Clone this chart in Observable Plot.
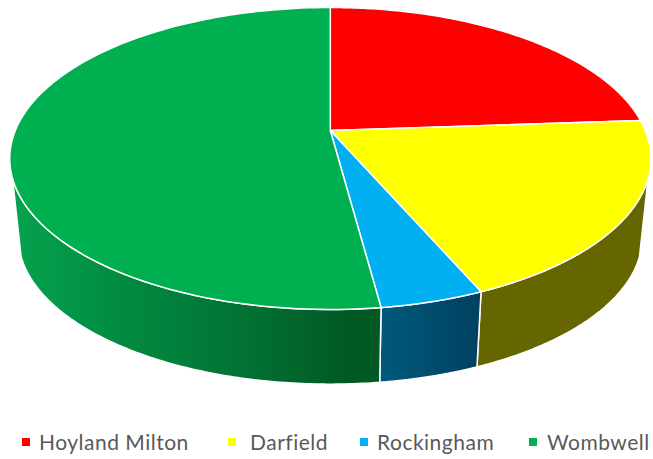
<!DOCTYPE html>
<html>
<head>
<meta charset="utf-8">
<script src="https://cdn.jsdelivr.net/npm/d3@7"></script>
<script src="https://cdn.jsdelivr.net/npm/@observablehq/plot@0.6"></script>
<style>
  html, body { margin: 0; padding: 0; background: #fff; }
  #chart svg { display: block; }
  #legend { position: relative; width: 653px; height: 59px; font: 21px Lato, sans-serif; color: #595959; letter-spacing: 0.5px; }
  #legend span { position: absolute; top: 30px; line-height: 24px; white-space: nowrap; }
  #legend i { position: absolute; top: 38px; width: 8px; height: 8px; }
</style>
</head>
<body>
<div id="chart"></div>
<div id="legend"></div>
<script>
// Share of each area, in percent, clockwise from twelve o'clock
const areas = ["Hoyland Milton", "Darfield", "Rockingham", "Wombwell"];
const shares = [23.9, 19.6, 4.4, 52.1];
const topColors = ["#ff0000", "#ffff00", "#00b0f0", "#00b050"];
const wallColors = ["#990000", "#666600", "url(#wall-blue)", "url(#wall-green)"];
const legendSwatchX = [22, 228, 360, 529];
const legendTextX = [39, 250, 377, 547];

const W = 653, H = 400;

// Perspective disc: the near edge is drawn larger than the far edge
const disc = {cx: 329.8, cy: 130, rx: 315, ry: 145.8, tilt: 0.1854};
const base = {cy: 209.5, scale: 0.973};
// Angles where the side wall meets the silhouette of the disc
const wallFrom = 108, wallTo = 252;

function rim(deg, level) {
  const a = deg * Math.PI / 180;
  const X = Math.sin(a), Y = -Math.cos(a), w = 1 - disc.tilt * Y;
  const s = level === "base" ? base.scale : 1;
  const y0 = level === "base" ? base.cy : disc.cy;
  return {x: disc.cx + s * disc.rx * X / w, y: y0 + s * disc.ry * Y / w};
}
const arc = (a0, a1, level) => d3.range(0, 121).map(i => rim(a0 + (a1 - a0) * i / 120, level));

// Running start and end angle of every slice
const total = d3.sum(shares);
let run = 0;
const slices = areas.map((name, i) => {
  const start = run * 360 / total;
  run += shares[i];
  return {name, start, end: run * 360 / total, top: topColors[i], wall: wallColors[i]};
});

const gradient = (defs, id, stops) => {
  const g = defs.append("linearGradient").attr("id", id).attr("x1", 0).attr("x2", 1).attr("y1", 0).attr("y2", 0);
  stops.forEach(([o, c]) => g.append("stop").attr("offset", o).attr("stop-color", c));
};
const gradients = () => {
  const defs = d3.create("svg:defs");
  gradient(defs, "wall-blue", [[0, "#005a7c"], [1, "#004060"]]);
  gradient(defs, "wall-green", [[0, "#05a34e"], [0.3, "#018a40"], [0.6, "#017436"], [0.9, "#015a24"], [1, "#015a26"]]);
  return defs.node();
};

const walls = slices
  .filter(s => s.end > wallFrom && s.start < wallTo)
  .map(s => {
    const a0 = Math.max(s.start, wallFrom), a1 = Math.min(s.end, wallTo);
    return Plot.line([...arc(a0, a1, "top"), ...arc(a1, a0, "base")], {
      x: "x", y: "y", curve: "linear-closed", fill: s.wall, stroke: "#fff", strokeWidth: 1.5
    });
  });

const faces = slices.map(s =>
  Plot.line([{x: disc.cx, y: disc.cy}, ...arc(s.start, s.end, "top")], {
    x: "x", y: "y", curve: "linear-closed", fill: s.top, stroke: "#fff", strokeWidth: 1.5
  })
);

const chart = Plot.plot({
  width: W, height: H,
  margin: 0,
  x: {domain: [0, W], axis: null},
  y: {domain: [H, 0], axis: null},
  marks: [gradients, ...walls, ...faces]
});
document.getElementById("chart").append(chart);

// Legend row under the pie
const legend = document.getElementById("legend");
areas.forEach((name, i) => {
  const swatch = document.createElement("i");
  swatch.style.left = legendSwatchX[i] + "px";
  swatch.style.background = topColors[i];
  const label = document.createElement("span");
  label.style.left = legendTextX[i] + "px";
  label.textContent = name;
  legend.append(swatch, label);
});
</script>
</body>
</html>
